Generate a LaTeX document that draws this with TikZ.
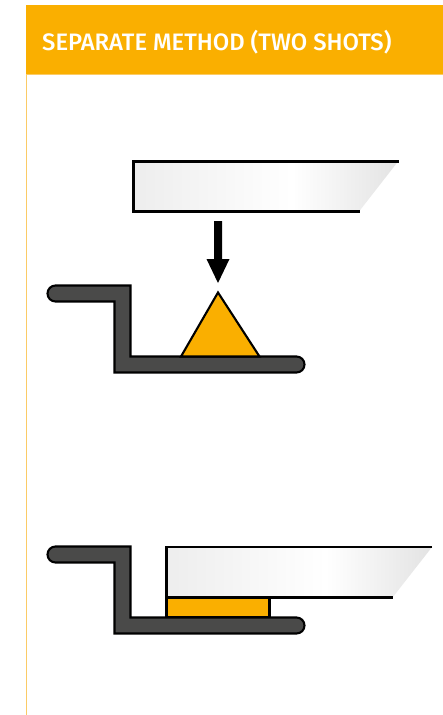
\documentclass[tikz,border=0pt]{standalone}
\usepackage{fontspec}
\setsansfont{Fira Sans}
\definecolor{hdr}{HTML}{FAAF00}
\definecolor{hdrline}{HTML}{FBCB66}
\definecolor{bracket}{HTML}{4A4A49}
\pgfdeclarehorizontalshading{bladeshade}{100bp}{color(0bp)=(black!7); color(25bp)=(black!7); color(55bp)=(white); color(75bp)=(black!11); color(100bp)=(black!11)}
\tikzset{
  outline/.style={draw=black,line width=2.1pt,line join=miter},
  bracketpart/.style={outline,fill=bracket},
  insertpart/.style={outline,fill=hdr},
  bladefill/.style={shading=bladeshade,draw=none},
  bladeline/.style={draw=black,line width=2.1pt,line join=miter},
  shaft/.style={fill=black,draw=none},
  title/.style={text=white,font=\fontsize{23.8pt}{26pt}\fontspec{Fira Sans Medium}\selectfont,anchor=base west,inner sep=0pt}
}
\begin{document}
\begin{tikzpicture}[x=1pt,y=-1pt]
\useasboundingbox (0,0) rectangle (443,715);
\fill[white] (0,0) rectangle (443,715);
% frame
\draw[hdrline,line width=1.5pt] (26.7,74) -- (26.7,715);
\fill[hdr] (26,5) rectangle (443,74);
\draw[hdrline,line width=0.8pt] (27,74.3) -- (443,74.3);
\node[title] (heading) at (42,50) {SEPARATE METHOD (TWO SHOTS)};
% first stage: blade
\shade[bladefill] (133.5,161.5) -- (398,161.5) -- (359,211.5) -- (133.5,211.5) -- cycle;
\draw[bladeline] (398.5,161.5) -- (133.5,161.5) -- (133.5,211.5) -- (359.5,211.5);
% arrow
\fill[shaft] (214,221) -- (222,221) -- (222,259) -- (229.5,259) -- (218,283) -- (206.5,259) -- (214,259) -- cycle;
% bracket 1
\draw[bracketpart] (130.5,285.5) -- (130.5,356.5) -- (296.5,356.5) arc[start angle=-90,end angle=90,radius=8] -- (114.5,372.5) -- (114.5,301.5) -- (55.5,301.5) arc[start angle=90,end angle=270,radius=8] -- cycle;
% triangle
\draw[insertpart] (218,292.5) -- (259.5,356.5) -- (181,356.5) -- cycle;
% second stage: bracket
\draw[bracketpart] (130.5,546.5) -- (130.5,617.5) -- (296.5,617.5) arc[start angle=-90,end angle=90,radius=8] -- (114.5,633.5) -- (114.5,562.5) -- (55.5,562.5) arc[start angle=90,end angle=270,radius=8] -- cycle;
% blade 2
\shade[bladefill] (166.5,547) -- (432,547) -- (392.5,597.5) -- (166.5,597.5) -- cycle;
\draw[bladeline] (432,547) -- (166.5,547) -- (166.5,597.5) -- (392.5,597.5);
% flattened insert
\draw[insertpart] (166.5,597.5) rectangle (269.5,617);
\end{tikzpicture}
\end{document}
